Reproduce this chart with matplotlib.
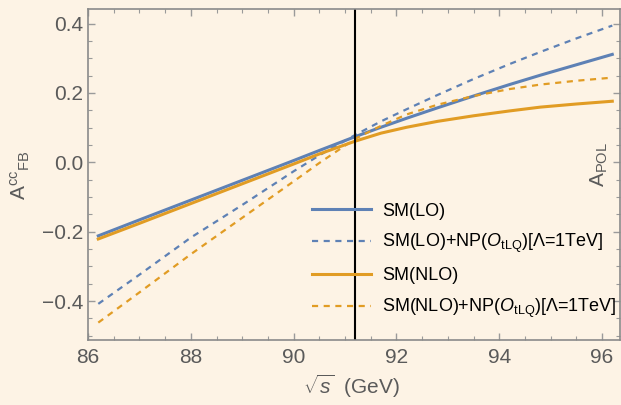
import matplotlib
matplotlib.use("Agg")
import matplotlib.pyplot as plt

# values
x_pts = [86.2, 87.0, 88.0, 89.0, 90.0, 90.5, 91.2, 91.7, 92.2, 92.8, 93.5, 94.2, 94.8, 95.5, 96.2]
sm_lo = [-0.212, -0.166, -0.109, -0.052, 0.005, 0.034, 0.074, 0.101, 0.127, 0.157, 0.191, 0.224, 0.251, 0.281, 0.311]
sm_lo_np = [-0.408, -0.324, -0.217, -0.123, -0.026, 0.020, 0.079, 0.118, 0.153, 0.194, 0.240, 0.283, 0.318, 0.357, 0.394]
sm_nlo = [-0.221, -0.176, -0.119, -0.062, -0.005, 0.024, 0.061, 0.084, 0.101, 0.118, 0.134, 0.148, 0.159, 0.168, 0.176]
sm_nlo_np = [-0.462, -0.375, -0.265, -0.160, -0.055, -0.002, 0.068, 0.105, 0.138, 0.166, 0.191, 0.211, 0.224, 0.235, 0.244]
mz = 91.19

labels = ['SM(LO)', r'SM(LO)+NP($O_{\mathrm{tLQ}}$)[Λ=1TeV]',
          'SM(NLO)', r'SM(NLO)+NP($O_{\mathrm{tLQ}}$)[Λ=1TeV]']

blue = '#5E81B5'
orange = '#E19C24'
bg = '#FDF3E5'
gray = '#5a5a5a'

plt.rcParams['font.family'] = ['Liberation Sans', 'DejaVu Sans']
plt.rcParams['mathtext.fontset'] = 'custom'
plt.rcParams['mathtext.rm'] = 'Liberation Sans'
plt.rcParams['mathtext.it'] = 'Liberation Sans:italic'
plt.rcParams['lines.scale_dashes'] = False

fig = plt.figure(figsize=(6.21, 4.05), dpi=100, facecolor=bg)
ax = fig.add_axes([88/621, 1-339.5/405, 532/621, 330.5/405], facecolor=bg)

ax.plot(x_pts, sm_lo, color=blue, lw=2.2, label=labels[0])
ax.plot(x_pts, sm_lo_np, color=blue, lw=1.6, dashes=[4.4, 4.0], label=labels[1])
ax.plot(x_pts, sm_nlo, color=orange, lw=2.2, label=labels[2])
ax.plot(x_pts, sm_nlo_np, color=orange, lw=1.6, dashes=[4.4, 4.0], label=labels[3])
ax.axvline(mz, color='black', lw=1.5)

ax.set_xlim(86, 96.35)
ax.set_ylim(-0.5107, 0.4418)
ax.set_xticks([86, 88, 90, 92, 94, 96])
ax.set_xticks([x/2 for x in range(172, 193)], minor=True)
ax.set_yticks([-0.4, -0.2, 0.0, 0.2, 0.4])
ax.set_yticks([y/100 for y in range(-50, 45, 5)], minor=True)
ax.set_yticklabels(['\u22120.4', '\u22120.2', '0.0', '0.2', '0.4'])

for s in ax.spines.values():
    s.set_color('#8a8a8a')
    s.set_linewidth(1.2)
ax.tick_params(which='both', direction='in', top=True, right=True,
               color='#9a9a9a', labelcolor=gray, labelsize=15)
ax.tick_params(which='major', length=5, width=1)
ax.tick_params(which='minor', length=3, width=0.8)
ax.tick_params(axis='x', pad=6)

leg = ax.legend(loc='lower left', bbox_to_anchor=(0.39, 0.01), frameon=False,
                fontsize=13, handlelength=3.3, labelspacing=0.68, handletextpad=0.6,
                labelcolor='black')

fig.text(20/621, 1-175/405, r'$\mathregular{A^{cc}{}_{FB}}$', rotation=90,
         color=gray, fontsize=15, ha='center', va='center')
ax.text(0.962, 0.53, r'$\mathregular{A_{POL}}$', rotation=90, transform=ax.transAxes,
        color=gray, fontsize=15, ha='center', va='center')
fig.text(352/621, 1-386/405, r'$\sqrt{s}$  (GeV)', color=gray, fontsize=15,
         ha='center', va='center')

fig.savefig('out.png', dpi=100, facecolor=bg)
